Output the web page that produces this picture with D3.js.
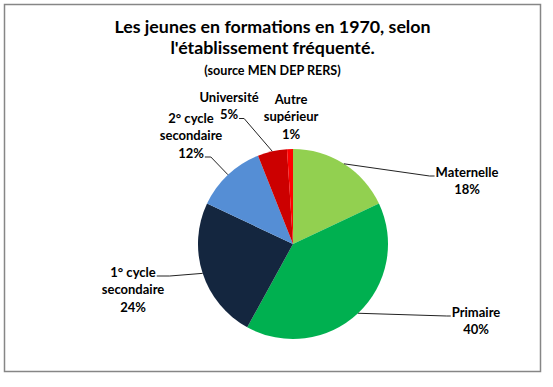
<!DOCTYPE html>
<html lang="fr">
<head>
    <meta charset="UTF-8">
    <title>Les jeunes en formations en 1970</title>
    <style>
        body { margin: 0; background: #fff; }
        text { font-family: Lato, "Open Sans", sans-serif; font-weight: bold; fill: #000; }
    </style>
</head>
<body>
<script src="https://d3js.org/d3.v7.min.js"></script>
<script>
    // data
    const categories = ["Maternelle", "Primaire", "1° cycle secondaire", "2° cycle secondaire", "Université", "Autre supérieur"];
    const values = [18, 40, 24, 12, 5, 1];
    const labelLines = [
        ["Maternelle"],
        ["Primaire"],
        ["1° cycle", "secondaire"],
        ["2° cycle", "secondaire"],
        ["Université"],
        ["Autre", "supérieur"]
    ];
    const colors = ["#92D050", "#00B050", "#14263F", "#558ED5", "#CC0000", "#FF0000"];

    const titleLines = ["Les jeunes en formations en 1970, selon", "l'établissement fréquenté."];
    const subtitle = "(source MEN DEP RERS)";

    // label placement: offset of first line centre from pie centre, which line / side the leader joins
    const labelLayout = [
        {dx: 174, dy: -72, line: 0, side: "left", knee: 5},
        {dx: 183, dy: 68, line: 0, side: "left", knee: 4},
        {dx: -160, dy: 28, line: 0, side: "right", knee: 13},
        {dx: -102, dy: -126, line: 2, side: "right", knee: 6},
        {dx: -64, dy: -147, line: 1, side: "right", knee: 5},
        {dx: -2, dy: -145, line: null}
    ];

    const width = 553, height = 387;
    const cx = 293, cy = 244, r = 95;
    const lineH = 17.5;

    const svg = d3.select("body").append("svg")
        .attr("width", width)
        .attr("height", height);

    // chart frame
    svg.append("rect")
        .attr("x", 4.5).attr("y", 4.5)
        .attr("width", 536).attr("height", 367)
        .attr("fill", "#fff")
        .attr("stroke", "#868686")
        .attr("stroke-width", 1.5);

    // title
    const title = svg.append("text")
        .attr("text-anchor", "middle")
        .style("font-size", "17.8px");
    titleLines.forEach((t, i) => {
        title.append("tspan")
            .attr("x", 272.5)
            .attr("y", 33 + i * 21)
            .text(t);
    });
    svg.append("text")
        .attr("x", 272.5).attr("y", 75)
        .attr("text-anchor", "middle")
        .style("font-size", "12.6px")
        .text(subtitle);

    const total = d3.sum(values);
    const pie = d3.pie().sort(null).value(d => d);
    const arcs = pie(values);
    const arc = d3.arc().innerRadius(0).outerRadius(r);

    const g = svg.append("g").attr("transform", `translate(${cx},${cy})`);

    g.selectAll("path.slice")
        .data(arcs)
        .enter().append("path")
        .attr("class", "slice")
        .attr("d", arc)
        .attr("fill", (d, i) => colors[i]);

    // labels
    arcs.forEach((d, i) => {
        const lay = labelLayout[i];
        const lines = labelLines[i].concat([Math.round(values[i] / total * 100) + "%"]);
        const t = g.append("text")
            .attr("text-anchor", "middle")
            .style("font-size", "13px");
        const spans = lines.map((s, k) => t.append("tspan")
            .attr("x", lay.dx)
            .attr("y", lay.dy + k * lineH + 4.5)
            .text(s));

        if (lay.line === null) return;
        const mid = (d.startAngle + d.endAngle) / 2;
        const p0 = [Math.sin(mid) * r, -Math.cos(mid) * r];
        const w = spans[lay.line].node().getComputedTextLength();
        const ly = lay.dy + lay.line * lineH + 4;
        const edge = lay.side === "left" ? lay.dx - w / 2 - 1 : lay.dx + w / 2 + 1;
        const kx = lay.side === "left" ? edge - lay.knee : edge + lay.knee;
        g.append("path")
            .attr("d", d3.line()([p0, [kx, ly], [edge, ly]]))
            .attr("fill", "none")
            .attr("stroke", "#222")
            .attr("stroke-width", 1);
    });
</script>
</body>
</html>
